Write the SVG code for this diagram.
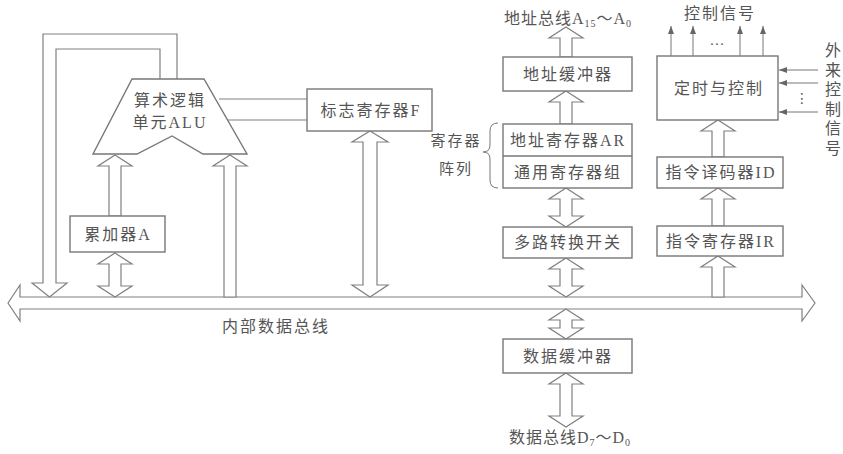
<svg xmlns="http://www.w3.org/2000/svg" width="843" height="454" viewBox="0 0 843 454">
<defs>
<style>
.ln{fill:none;stroke:#808080;stroke-width:1.2;stroke-linejoin:miter}
.ha{fill:#fff;stroke:#808080;stroke-width:1.2;stroke-linejoin:miter}
.bx{fill:#fff;stroke:#777;stroke-width:1.4}
.t{font-family:"Liberation Serif","Noto Sans CJK SC",serif;font-size:16px;fill:#555;text-anchor:middle;letter-spacing:2px}
.s{font-size:15px}
.v{font-size:16px;letter-spacing:0}
.th{stroke:#777;stroke-width:1;fill:none}
</style>
<marker id="ah" viewBox="0 0 8 6" refX="8" refY="3" markerWidth="8" markerHeight="6" markerUnits="userSpaceOnUse" orient="auto">
<path d="M0,0 L8,3 L0,6 Z" fill="#666"/>
</marker>
</defs>
<rect width="843" height="454" fill="#fff"/>

<g id="connectors">
<path class="ha" d="M8,303 L20,285 L20,297 L802,297 L802,285 L815,303 L802,321 L802,309 L20,309 L20,321 Z"/>
<path class="ln" d="M177,79 L177,34 L43,34 L43,283 L32,283 L49.5,297 L67,283 L56,283 L56,49 L160,49 L160,79"/>
<path class="ln" d="M219,99 L307,99 M226,120 L307,120"/>
<path class="ha" d="M115,155 L132,166 L121,166 L121,216 L109,216 L109,166 L98,166 Z"/>
<path class="ha" d="M115,253 L132,264 L121,264 L121,286 L132,286 L115,297 L98,286 L109,286 L109,264 L98,264 Z"/>
<path class="ha" d="M230,155 L247,166 L236,166 L236,297 L224,297 L224,166 L213,166 Z"/>
<path class="ha" d="M370,131 L388,142 L377,142 L377,285 L388,285 L370,297 L352,285 L363,285 L363,142 L352,142 Z"/>
<path class="ha" d="M566,27 L583,38 L572,38 L572,57 L560,57 L560,38 L549,38 Z"/>
<path class="ha" d="M566,91 L583,102 L572,102 L572,124 L560,124 L560,102 L549,102 Z"/>
<path class="ha" d="M566,188 L583,199 L572,199 L572,216 L583,216 L566,227 L549,216 L560,216 L560,199 L549,199 Z"/>
<path class="ha" d="M566,258 L583,269 L572,269 L572,286 L583,286 L566,297 L549,286 L560,286 L560,269 L549,269 Z"/>
<path class="ha" d="M566,309 L583,320 L572,320 L572,328 L583,328 L566,339 L549,328 L560,328 L560,320 L549,320 Z"/>
<path class="ha" d="M566,373 L583,384 L572,384 L572,416 L583,416 L566,427 L549,416 L560,416 L560,384 L549,384 Z"/>
<path class="ha" d="M718,120 L735,131 L724,131 L724,157 L712,157 L712,131 L701,131 Z"/>
<path class="ha" d="M718,188 L735,199 L724,199 L724,226 L712,226 L712,199 L701,199 Z"/>
<path class="ha" d="M718,256 L735,267 L724,267 L724,297 L712,297 L712,267 L701,267 Z"/>
<line class="th" x1="671" y1="56" x2="671" y2="26" marker-end="url(#ah)"/>
<line class="th" x1="693" y1="56" x2="693" y2="26" marker-end="url(#ah)"/>
<line class="th" x1="740" y1="56" x2="740" y2="26" marker-end="url(#ah)"/>
<line class="th" x1="763" y1="56" x2="763" y2="26" marker-end="url(#ah)"/>
<line class="th" x1="818" y1="70" x2="779" y2="70" marker-end="url(#ah)"/>
<line class="th" x1="818" y1="83" x2="779" y2="83" marker-end="url(#ah)"/>
<line class="th" x1="818" y1="112" x2="779" y2="112" marker-end="url(#ah)"/>
<path class="th" d="M498,123 Q490,123 490,131 L490,145 Q490,152 483,152 Q490,152 490,159 L490,180 Q490,188 498,188"/>
</g>

<g id="alu">
<path class="bx" d="M132,79 L204,79 L247,154 L203,154 L172,136 L137,154 L93,154 Z"/>
<text class="t" x="170" y="106">算术逻辑</text>
<text class="t" x="170" y="128">单元ALU</text>
</g>
<g id="flag">
<rect class="bx" x="307" y="89" width="125" height="42"/>
<text class="t" x="371" y="116">标志寄存器F</text>
</g>
<g id="acc">
<rect class="bx" x="70" y="216" width="95" height="36"/>
<text class="t" x="118" y="240">累加器A</text>
</g>
<g id="addrbuf">
<rect class="bx" x="503" y="57" width="129" height="34"/>
<text class="t" x="568" y="80">地址缓冲器</text>
</g>
<g id="regarray">
<rect class="bx" x="503" y="124" width="129" height="64"/>
<line x1="503" y1="156" x2="632" y2="156" stroke="#777" stroke-width="1.4"/>
<text class="t" x="568" y="146">地址寄存器AR</text>
<text class="t" x="568" y="178">通用寄存器组</text>
<text class="t s" x="456" y="146">寄存器</text>
<text class="t s" x="456" y="174">阵列</text>
</g>
<g id="mux">
<rect class="bx" x="503" y="227" width="129" height="31"/>
<text class="t" x="568" y="248">多路转换开关</text>
</g>
<g id="databuf">
<rect class="bx" x="503" y="339" width="129" height="34"/>
<text class="t" x="568" y="362">数据缓冲器</text>
</g>
<g id="timing">
<rect class="bx" x="657" y="56" width="121" height="64"/>
<text class="t" x="719" y="94">定时与控制</text>
</g>
<g id="id">
<rect class="bx" x="657" y="157" width="126" height="31"/>
<text class="t" x="721" y="178">指令译码器ID</text>
</g>
<g id="ir">
<rect class="bx" x="657" y="226" width="126" height="30"/>
<text class="t" x="721" y="247">指令寄存器IR</text>
</g>

<g id="labels">
<text class="t" x="568" y="24" style="letter-spacing:1px">地址总线A<tspan font-size="10" dy="3">15</tspan><tspan dy="-3">～A</tspan><tspan font-size="10" dy="3">0</tspan></text>
<text class="t" x="570" y="443" style="letter-spacing:1px">数据总线D<tspan font-size="10" dy="3">7</tspan><tspan dy="-3">～D</tspan><tspan font-size="10" dy="3">0</tspan></text>
<text class="t" x="720" y="19">控制信号</text>
<text class="t s" x="717" y="45" style="letter-spacing:0">…</text>
<text class="t" x="802" y="103" style="letter-spacing:0;font-family:'DejaVu Sans',sans-serif;font-size:14px">⋮</text>
<text class="t" x="276" y="332">内部数据总线</text>
<text class="t v" x="833" y="56">外</text>
<text class="t v" x="833" y="76">来</text>
<text class="t v" x="833" y="95">控</text>
<text class="t v" x="833" y="115">制</text>
<text class="t v" x="833" y="134">信</text>
<text class="t v" x="833" y="154">号</text>
</g>
</svg>
